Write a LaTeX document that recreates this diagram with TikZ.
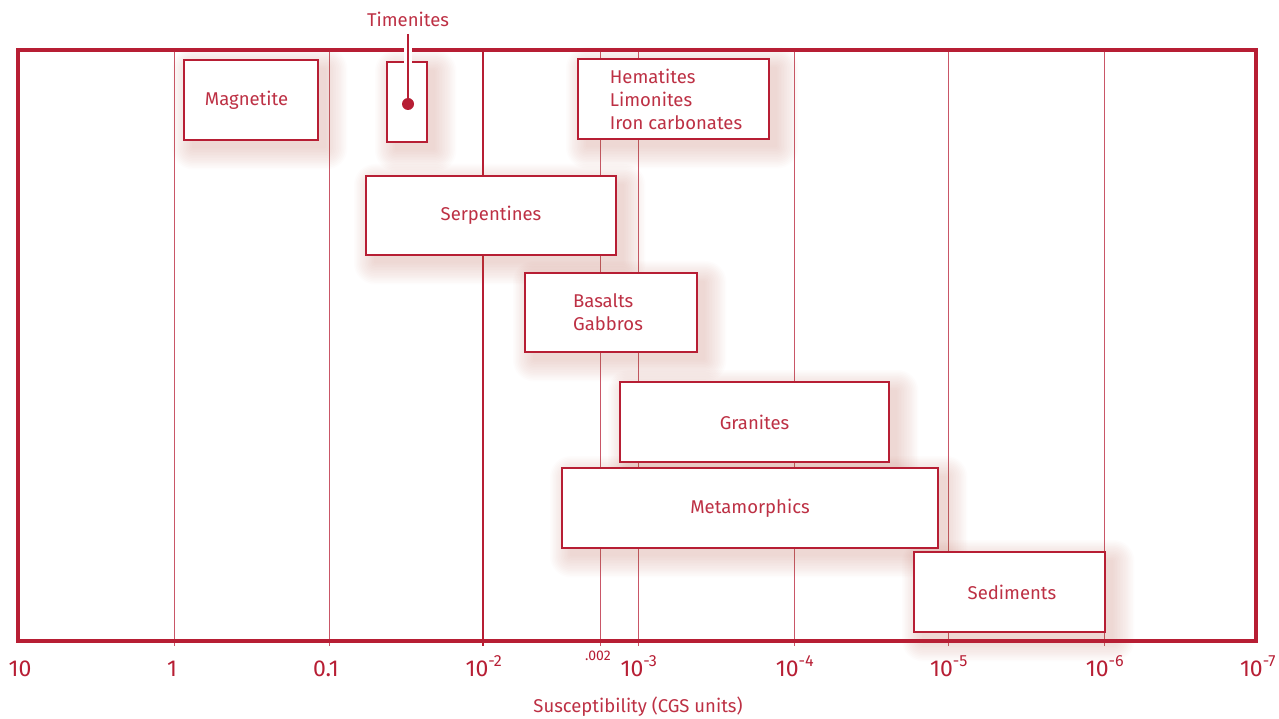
\documentclass[tikz,border=0pt]{standalone}
\usepackage{fontspec}
\setmainfont{Fira Sans}
\usetikzlibrary{positioning}

\definecolor{rockred}{HTML}{B71E34}
\definecolor{shadowred}{HTML}{B86050}
\pgfdeclarelayer{background}
\pgfsetlayers{background,main}

\tikzset{
  rockbox/.style={draw=rockred, line width=2pt, fill=white, text=rockred!92,
    font=\fontsize{18.5}{23}\selectfont, inner sep=0pt, align=left},
  gridline/.style={draw=rockred!75, line width=0.9pt},
  ticklabel/.style={text=rockred, anchor=base, font=\fontsize{23}{23}\selectfont},
}
\newcommand\rockshadow[1]{%
  \foreach \r in {1,...,14}{%
    \fill[shadowred, opacity=0.018, rounded corners=1.5*\r pt]
      ([shift={(10-1.5*\r,10-1.5*\r)}]#1.north west) rectangle ([shift={(6+1.6*\r,6+1.6*\r)}]#1.south east);}}

\begin{document}
\begin{tikzpicture}[x=1pt,y=-1pt]
\useasboundingbox (0,0) rectangle (1279,719);

\begin{pgfonlayer}{background}
\foreach \gx in {174,329,600,638,794,948,1104}
  \draw[gridline] (\gx,50) -- (\gx,646);
\draw[rockred, line width=1.4pt] (483,50) -- (483,646);
\end{pgfonlayer}

\draw[rockred, line width=4pt] (18,50) rectangle (1256,641);

\node (magnetite) [rockbox, minimum width=134pt, minimum height=80pt] at (251,100) {Magnetite\hspace*{9pt}};
\node (timbox) [rockbox, minimum width=40pt, minimum height=80pt] at (407,102) {};
\node (hematites) [rockbox, minimum width=191pt, minimum height=80pt] at (673.5,99) {\hspace*{5pt}Hematites\\\hspace*{5pt}Limonites\\\hspace*{5pt}Iron carbonates};
\node (serpentines) [rockbox, minimum width=250pt, minimum height=79pt] at (491,215.5) {Serpentines};
\node (basalts) [rockbox, minimum width=172pt, minimum height=79pt] at (611,312.5) {Basalts\\Gabbros\hspace*{6pt}};
\node (granites) [rockbox, minimum width=269pt, minimum height=80pt] at (754.5,422) {Granites};
\node (metamorphics) [rockbox, minimum width=376pt, minimum height=80pt] at (750,508) {Metamorphics};
\node (sediments) [rockbox, minimum width=191pt, minimum height=80pt] at (1009.5,592) {\hspace*{5pt}Sediments};

\begin{pgfonlayer}{background}
\foreach \b in {magnetite,timbox,hematites,serpentines,basalts,granites,metamorphics,sediments}
  \rockshadow{\b};
\end{pgfonlayer}

% Timenites marker
\node (dot) [circle, fill=rockred, minimum size=12pt, inner sep=0pt] at (408,104) {};
\node (timenites) [text=rockred!92, font=\fontsize{18.5}{18}\selectfont] at (408,19) {Timenites};
\draw[white, line width=8pt, shorten <=12pt] (timenites.south) -- (dot.north);
\draw[rockred, line width=2.5pt, shorten <=4pt] (timenites.south) -- (dot.center);

\node (t10) [ticklabel] at (20,676) {10};
\node (t1) [ticklabel] at (172,676) {1};
\node (t01) [ticklabel] at (326,676) {0.1};
\node (t2) [ticklabel] at (484,676) {10\textsuperscript{-2}};
\node (t002) [text=rockred, anchor=base, font=\fontsize{14}{14}\selectfont] at (598,660) {.002};
\node (t3) [ticklabel] at (639,676) {10\textsuperscript{-3}};
\node (t4) [ticklabel] at (795,676) {10\textsuperscript{-4}};
\node (t5) [ticklabel] at (949,676) {10\textsuperscript{-5}};
\node (t6) [ticklabel] at (1105,676) {10\textsuperscript{-6}};
\node (t7) [ticklabel] at (1258,676) {10\textsuperscript{-7}};

\node (axis) [text=rockred!92, font=\fontsize{18.5}{18}\selectfont] at (638,707) {Susceptibility (CGS units)};
\end{tikzpicture}
\end{document}
